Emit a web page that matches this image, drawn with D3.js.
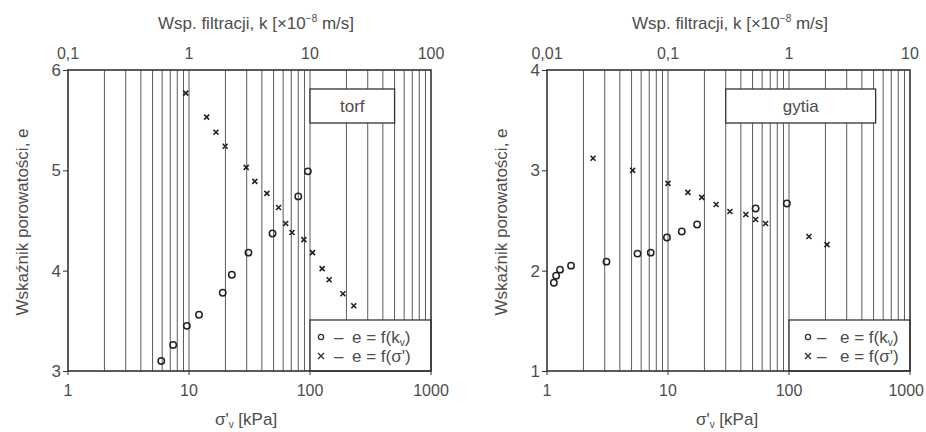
<!DOCTYPE html>
<html>
<head>
<meta charset="utf-8">
<script src="https://cdn.jsdelivr.net/npm/d3@7"></script>
<style>
	body { margin: 0; background: #fff; }
	svg text { font-family: "Liberation Sans", Arial, sans-serif; fill: #4d4d4d; }
</style>
</head>
<body>
<svg id="chart" width="926" height="432"></svg>
<script>
// ---- data ----
// torf: e = f(sigma')  (crosses, bottom axis)
var torfSigma = [9.4, 14, 16.7, 19.9, 29.7, 35, 44, 55, 63, 71, 89, 105, 126, 144, 187, 230];
var torfSigmaE = [5.77, 5.53, 5.38, 5.24, 5.03, 4.89, 4.77, 4.63, 4.47, 4.38, 4.31, 4.18, 4.02, 3.91, 3.77, 3.65];
// torf: e = f(kv)  (circles, top axis)
var torfK = [0.59, 0.74, 0.96, 1.21, 1.9, 2.26, 3.1, 4.9, 8.0, 9.6];
var torfKE = [3.10, 3.26, 3.45, 3.56, 3.78, 3.96, 4.18, 4.37, 4.74, 4.99];

// gytia: e = f(sigma')
var gytiaSigma = [2.4, 5.1, 10, 14.6, 19, 25, 32.5, 44, 53, 64, 146, 206];
var gytiaSigmaE = [3.12, 3.00, 2.87, 2.78, 2.73, 2.66, 2.59, 2.56, 2.51, 2.47, 2.34, 2.26];
// gytia: e = f(kv)
var gytiaK = [0.0114, 0.0119, 0.0128, 0.0158, 0.031, 0.056, 0.072, 0.098, 0.13, 0.174, 0.53, 0.96];
var gytiaKE = [1.88, 1.95, 2.01, 2.05, 2.09, 2.17, 2.18, 2.33, 2.39, 2.46, 2.62, 2.67];

// axes
var sigmaTicks = [1, 10, 100, 1000];
var sigmaTickLabels = ["1", "10", "100", "1000"];
var torfKTicks = [0.1, 1, 10, 100];
var torfKTickLabels = ["0,1", "1", "10", "100"];
var gytiaKTicks = [0.01, 0.1, 1, 10];
var gytiaKTickLabels = ["0,01", "0,1", "1", "10"];
var torfETicks = [3, 4, 5, 6];
var gytiaETicks = [1, 2, 3, 4];

var panels = [
	{
		left: 68, name: "torf",
		kDomain: [0.1, 100], eDomain: [3, 6],
		kTicks: torfKTicks, kLabels: torfKTickLabels, eTicks: torfETicks,
		sx: torfSigma, se: torfSigmaE, kx: torfK, ke: torfKE,
		box: [100, 500], leg: [11, 24, 42], topMid: 188, botMid: 178
	},
	{
		left: 547, name: "gytia",
		kDomain: [0.01, 10], eDomain: [1, 4],
		kTicks: gytiaKTicks, kLabels: gytiaKTickLabels, eTicks: gytiaETicks,
		sx: gytiaSigma, se: gytiaSigmaE, kx: gytiaK, ke: gytiaKE,
		box: [30, 520], leg: [19, 28, 51], topMid: 183, botMid: 180
	}
];

var W = 363, TOP = 70, BOTTOM = 371;
var ink = "#333";
var svg = d3.select("#chart");

panels.forEach(function(p) {
	var x = d3.scaleLog().domain([1, 1000]).range([p.left, p.left + W]);
	var xk = d3.scaleLog().domain(p.kDomain).range([p.left, p.left + W]);
	var y = d3.scaleLinear().domain(p.eDomain).range([BOTTOM, TOP]);
	var g = svg.append("g");

	// vertical log grid (1..9 each decade)
	var grid = [];
	[1, 10, 100].forEach(function(d) {
		for (var m = 2; m <= 9; m++) grid.push(d * m);
	});
	grid.push(10, 100);
	g.selectAll("line.grid").data(grid).enter().append("line")
		.attr("class", "grid")
		.attr("x1", function(d) { return x(d); }).attr("x2", function(d) { return x(d); })
		.attr("y1", TOP).attr("y2", BOTTOM)
		.attr("stroke", "#5a5a5a").attr("stroke-width", 1);

	// name box
	var bx0 = x(p.box[0]), bx1 = x(p.box[1]);
	g.append("rect")
		.attr("x", bx0).attr("y", 89).attr("width", bx1 - bx0).attr("height", 34)
		.attr("fill", "#fff").attr("stroke", ink).attr("stroke-width", 1.3);
	g.append("text")
		.attr("x", (bx0 + bx1) / 2).attr("y", 112)
		.attr("text-anchor", "middle").attr("font-size", 17)
		.text(p.name);

	// legend box
	var lx0 = x(100), lx1 = x(1000);
	g.append("rect")
		.attr("x", lx0).attr("y", 320).attr("width", lx1 - lx0).attr("height", BOTTOM - 320)
		.attr("fill", "#fff").attr("stroke", ink).attr("stroke-width", 1.3);
	var mx = lx0 + p.leg[0], dx = lx0 + p.leg[1], tx = lx0 + p.leg[2];
	g.append("circle").attr("cx", mx).attr("cy", 337).attr("r", 2.6)
		.attr("fill", "none").attr("stroke", ink).attr("stroke-width", 1.3);
	g.append("text").attr("x", dx).attr("y", 343).attr("font-size", 17).text("\u2013");
	var t1 = g.append("text").attr("x", tx).attr("y", 343).attr("font-size", 17);
	t1.append("tspan").text("e = f(k");
	t1.append("tspan").attr("font-size", 10).attr("dy", 3).text("v");
	t1.append("tspan").attr("dy", -3).text(")");
	g.append("path").attr("d", "M" + (mx - 3) + "," + 353 + "l6,6m-6,0l6,-6")
		.attr("stroke", ink).attr("stroke-width", 1.4);
	g.append("text").attr("x", dx).attr("y", 362).attr("font-size", 17).text("\u2013");
	g.append("text").attr("x", tx).attr("y", 362).attr("font-size", 17)
		.text("e = f(\u03c3')");

	// frame
	g.append("rect")
		.attr("x", p.left).attr("y", TOP).attr("width", W).attr("height", BOTTOM - TOP)
		.attr("fill", "none").attr("stroke", ink).attr("stroke-width", 1.6);

	// bottom tick labels (kept inside the page on the far right)
	g.selectAll("text.bt").data(sigmaTicks).enter().append("text")
		.attr("class", "bt")
		.attr("x", function(d) { return x(d); }).attr("y", 396)
		.attr("text-anchor", "middle").attr("font-size", 16)
		.text(function(d, i) { return sigmaTickLabels[i]; })
		.each(function() {
			var w = this.getComputedTextLength(), cx = +this.getAttribute("x");
			if (cx + w / 2 > 924) this.setAttribute("x", 924 - w / 2);
		});
	g.selectAll("line.bt").data(sigmaTicks).enter().append("line")
		.attr("class", "bt")
		.attr("x1", function(d) { return x(d); }).attr("x2", function(d) { return x(d); })
		.attr("y1", BOTTOM).attr("y2", BOTTOM + 4)
		.attr("stroke", ink);

	// top tick labels
	g.selectAll("text.tt").data(p.kTicks).enter().append("text")
		.attr("class", "tt")
		.attr("x", function(d) { return xk(d); }).attr("y", 59)
		.attr("text-anchor", "middle").attr("font-size", 16)
		.text(function(d, i) { return p.kLabels[i]; });

	// left axis
	var ax = g.append("g")
		.attr("transform", "translate(" + p.left + ",0)")
		.call(d3.axisLeft(y).tickValues(p.eTicks).tickSize(5).tickPadding(2).tickFormat(d3.format("d")));
	ax.select(".domain").remove();
	ax.selectAll(".tick line").attr("stroke", ink);
	ax.selectAll(".tick text").attr("font-size", 17).attr("font-family", null).attr("fill", "#4d4d4d");

	// titles
	var top = g.append("text").attr("x", p.left + p.topMid).attr("y", 29)
		.attr("text-anchor", "middle").attr("font-size", 17);
	top.append("tspan").text("Wsp. filtracji, k [\u00d710");
	top.append("tspan").attr("font-size", 10).attr("dy", -7).text("\u22128");
	top.append("tspan").attr("dy", 7).text(" m/s]");

	var bt = g.append("text").attr("x", p.left + p.botMid).attr("y", 425)
		.attr("text-anchor", "middle").attr("font-size", 17);
	bt.append("tspan").text("\u03c3'");
	bt.append("tspan").attr("font-size", 10).attr("dy", 3).text("v");
	bt.append("tspan").attr("dy", -3).text(" [kPa]");

	g.append("text")
		.attr("transform", "translate(" + (p.left - 40) + "," + 222 + ") rotate(-90)")
		.attr("text-anchor", "middle").attr("font-size", 17)
		.text("Wska\u017anik porowato\u015bci, e");

	// crosses: e = f(sigma')
	var crosses = p.sx.map(function(s, i) { return { s: s, e: p.se[i] }; });
	g.selectAll("path.cross").data(crosses).enter().append("path")
		.attr("class", "cross")
		.attr("d", function(d) { return "M" + (x(d.s) - 2.5) + "," + (y(d.e) - 2.5) + "l5,5m-5,0l5,-5"; })
		.attr("stroke", "#222").attr("stroke-width", 1.6);

	// circles: e = f(kv)
	var circles = p.kx.map(function(k, i) { return { k: k, e: p.ke[i] }; });
	g.selectAll("circle.kv").data(circles).enter().append("circle")
		.attr("class", "kv")
		.attr("cx", function(d) { return xk(d.k); }).attr("cy", function(d) { return y(d.e); })
		.attr("r", 3.2).attr("fill", "none").attr("stroke", "#222").attr("stroke-width", 1.5);
});
</script>
</body>
</html>
